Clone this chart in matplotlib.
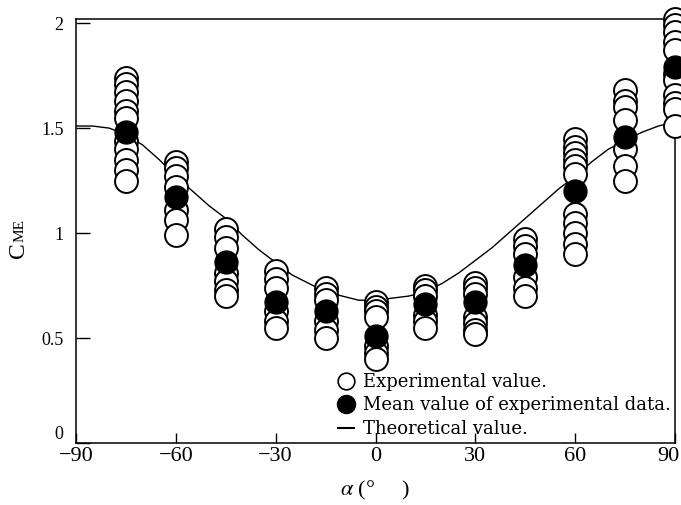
import numpy as np
import matplotlib.pyplot as plt
import matplotlib.transforms as mtransforms
from matplotlib.lines import Line2D

# 实验角度
angles = [-75, -60, -45, -30, -15, 0, 15, 30, 45, 60, 75, 90]

# 实验值（每个角度若干个）
exp_values = [
    [1.74, 1.71, 1.67, 1.63, 1.58, 1.55, 1.44, 1.40, 1.35, 1.30, 1.25],
    [1.34, 1.31, 1.27, 1.22, 1.11, 1.06, 0.99],
    [1.02, 0.98, 0.93, 0.81, 0.77, 0.73, 0.70],
    [0.82, 0.78, 0.74, 0.63, 0.58, 0.55],
    [0.74, 0.71, 0.68, 0.58, 0.54, 0.50],
    [0.67, 0.65, 0.63, 0.60, 0.46, 0.43, 0.40],
    [0.75, 0.73, 0.70, 0.61, 0.58, 0.55],
    [0.76, 0.74, 0.71, 0.60, 0.57, 0.54, 0.52],
    [0.97, 0.94, 0.90, 0.79, 0.74, 0.70],
    [1.45, 1.41, 1.38, 1.35, 1.32, 1.28, 1.09, 1.05, 1.00, 0.95, 0.90],
    [1.68, 1.63, 1.60, 1.54, 1.40, 1.32, 1.25],
    [2.02, 1.99, 1.96, 1.91, 1.87, 1.76, 1.73, 1.66, 1.62, 1.59, 1.51],
]

# 实验数据平均值
mean_values = [1.48, 1.17, 0.86, 0.67, 0.63, 0.51, 0.66, 0.67, 0.85, 1.20, 1.46, 1.79]

# 理论值曲线
theory_angle = [-90, -85, -80, -75, -70, -65, -60, -55, -50, -45, -40, -35, -30,
                -25, -20, -15, -10, -5, 0, 5, 10, 15, 20, 25, 30, 35, 40, 45,
                50, 55, 60, 65, 70, 75, 80, 85, 90]
theory_value = [1.51, 1.51, 1.50, 1.47, 1.42, 1.35, 1.27, 1.20, 1.13, 1.07, 0.99,
                0.92, 0.86, 0.80, 0.76, 0.72, 0.70, 0.68, 0.68, 0.69, 0.70, 0.72,
                0.76, 0.81, 0.87, 0.93, 1.00, 1.07, 1.14, 1.21, 1.27, 1.34, 1.40,
                1.44, 1.48, 1.51, 1.53]

xtick_labels = ['\u221290', '\u221260', '\u221230', '0', '30', '60', '90']
ytick_labels = ['0', '0.5', '1', '1.5', '2']

if __name__ == '__main__':
    plt.rcParams['font.family'] = ['Liberation Serif', 'DejaVu Serif']
    plt.rcParams['mathtext.fontset'] = 'stix'

    fig = plt.figure(figsize=(6.81, 5.05), dpi=100)
    ax = fig.add_axes([0.1116, 0.1228, 0.8796, 0.8396])

    # 理论曲线
    ax.plot(theory_angle, theory_value, color='black', linewidth=1.0, zorder=2)

    # 实验值 空心圆
    for a, vals in zip(angles, exp_values):
        ax.plot([a] * len(vals), vals, linestyle='none', marker='o', markersize=16.5,
                markerfacecolor='white', markeredgecolor='black', markeredgewidth=1.4,
                clip_on=False, zorder=3)

    # 平均值 实心圆
    ax.plot(angles, mean_values, linestyle='none', marker='o', markersize=16.5,
            markerfacecolor='black', markeredgecolor='black', clip_on=False, zorder=4)

    ax.set_xlim(-90, 90)
    ax.set_ylim(0, 2.02)
    ax.set_xticks([-90, -60, -30, 0, 30, 60, 90])
    ax.set_xticklabels(xtick_labels, fontsize=16)
    ax.set_yticks([0, 0.5, 1, 1.5, 2])
    ax.set_yticklabels(ytick_labels, fontsize=13)
    ax.tick_params(axis='x', direction='in', length=7, width=1.0, pad=3)
    ax.tick_params(axis='y', direction='in', length=10, width=1.0, pad=9)
    for sp in ax.spines.values():
        sp.set_linewidth(1.1)
        sp.set_zorder(1)

    # 0 的标签稍微上移，90 的标签往左收一点
    ax.get_yticklabels()[0].set_va('bottom')
    lab90 = ax.get_xticklabels()[-1]
    lab90.set_transform(lab90.get_transform() +
                        mtransforms.ScaledTranslation(-7 / 100, 0, fig.dpi_scale_trans))

    ax.set_xlabel(r'$\alpha$ (°     )', fontsize=16, labelpad=9)

    # 纵轴标签 C_ME
    c_txt = fig.text(24 / 681, 1 - 258 / 505, 'C', fontsize=17, rotation=90,
                     rotation_mode='anchor', ha='left', va='baseline')
    fig.canvas.draw()
    bb = c_txt.get_window_extent()
    fig.text(24 / 681, bb.y1 / fig.bbox.height, 'ME', fontsize=11, rotation=90,
             rotation_mode='anchor', ha='left', va='baseline')

    # 图例
    handles = [
        Line2D([], [], linestyle='none', marker='o', markersize=12,
               markerfacecolor='white', markeredgecolor='black', markeredgewidth=1.2),
        Line2D([], [], linestyle='none', marker='o', markersize=13,
               markerfacecolor='black', markeredgecolor='black'),
        Line2D([], [], color='black', linewidth=1.5),
    ]
    ax.legend(handles, ['Experimental value.', 'Mean value of experimental data.',
                        'Theoretical value.'],
              loc='upper left', bbox_to_anchor=(0.437, 0.165), frameon=False,
              prop={'family': 'DejaVu Serif', 'size': 13},
              handlelength=0.9, handletextpad=0.5, labelspacing=0.3,
              borderpad=0, borderaxespad=0)

    plt.savefig('out.png', dpi=100)
